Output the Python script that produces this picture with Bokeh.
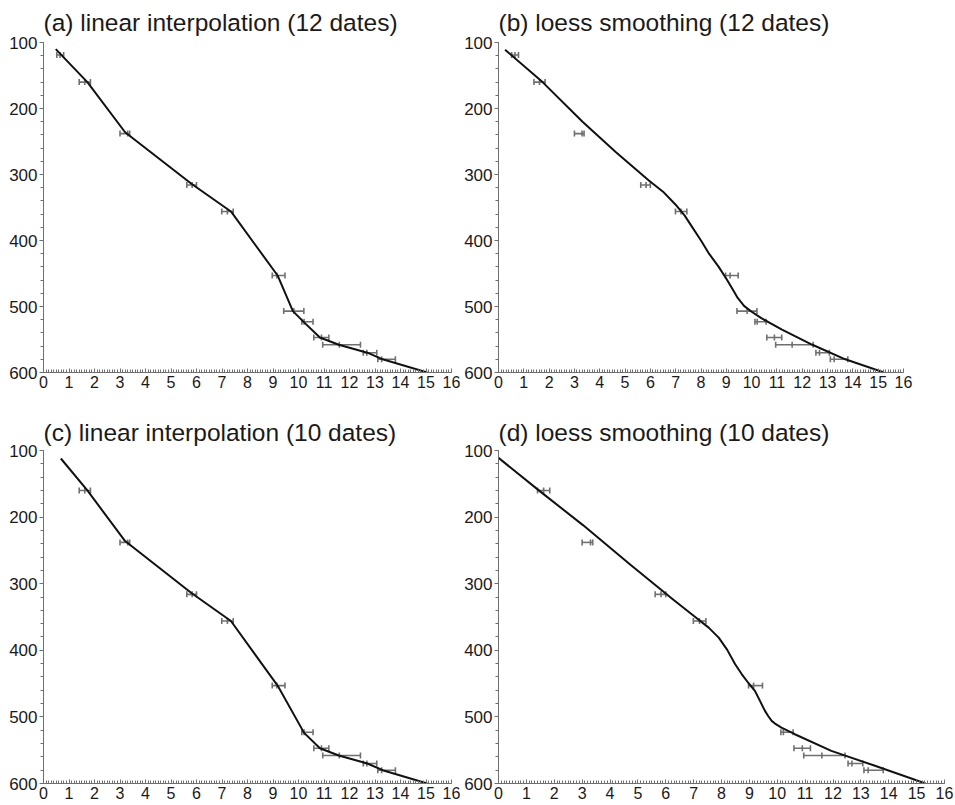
import math
from bokeh.plotting import figure
from bokeh.models import (ColumnDataSource, Range1d, SingleIntervalTicker, Whisker, TeeHead)
from bokeh.layouts import column, row
from bokeh.embed import file_html
from bokeh.resources import INLINE

# ---- dated samples (age in kyr, depth in cm) ----
dates12_depth = [119, 160, 238, 316, 356, 453, 507, 523, 547, 558, 570, 580]
dates12_age = [0.65, 1.62, 3.30, 5.83, 7.21, 9.15, 9.82, 10.22, 10.90, 11.60, 12.68, 13.26]
dates12_lo = [0.52, 1.40, 3.00, 5.62, 6.99, 8.97, 9.42, 10.13, 10.60, 10.95, 12.54, 13.11]
dates12_hi = [0.79, 1.84, 3.38, 6.00, 7.44, 9.47, 10.21, 10.57, 11.19, 12.43, 13.07, 13.80]

dates10_depth = [160, 238, 316, 356, 453, 523, 547, 558, 570, 580]
dates10_age = [1.62, 3.30, 5.83, 7.21, 9.15, 10.22, 10.90, 11.60, 12.68, 13.26]
dates10_lo = [1.40, 3.00, 5.62, 6.99, 8.97, 10.13, 10.60, 10.95, 12.54, 13.11]
dates10_hi = [1.84, 3.38, 6.00, 7.44, 9.47, 10.57, 11.19, 12.43, 13.07, 13.80]

# ---- age-depth models ----
lin12_age = [0.48, 1.72, 3.20, 5.80, 7.35, 9.18, 9.78, 10.22, 10.84, 11.58, 12.70, 13.30, 15.05]
lin12_depth = [110, 160, 236, 314, 356, 453, 507, 524, 547, 558, 570, 580, 600]

loess12_age = [0.26, 1.74, 3.32, 4.63, 5.94, 6.50, 6.98, 7.35, 7.64, 8.00, 8.30, 8.70, 9.02,
               9.25, 9.45, 9.70, 10.00, 10.40, 11.20, 12.40, 13.70, 15.23]
loess12_depth = [111, 160, 220, 266, 309, 326, 345, 362, 379, 400, 419, 440, 459,
                 474, 487, 499, 508, 518, 535, 558, 580, 600]

lin10_age = [0.68, 1.72, 3.20, 5.80, 7.35, 9.18, 10.22, 10.84, 11.58, 12.70, 13.30, 15.05]
lin10_depth = [112, 160, 236, 314, 356, 453, 524, 547, 558, 570, 580, 600]

loess10_age = [0.0, 1.48, 3.03, 4.69, 6.24, 7.00, 7.54, 7.90, 8.20, 8.49, 8.73, 9.00, 9.20,
               9.38, 9.56, 9.68, 9.80, 9.95, 10.15, 10.63, 11.94, 13.48, 15.32]
loess10_depth = [111, 161, 212, 270, 323, 348, 366, 381, 399, 421, 436, 451, 461,
                 476, 491, 499, 506, 511, 516, 526, 551, 573, 600]

titles = ["(a) linear interpolation (12 dates)", "(b) loess smoothing (12 dates)",
          "(c) linear interpolation (10 dates)", "(d) loess smoothing (10 dates)"]

FONT = "Liberation Sans"
GRAY = "#707070"


def panel(title, w, h, bl, br, bt, bb, standoff, d_age, d_lo, d_hi, d_depth, m_age, m_depth):
    p = figure(width=w, height=h, output_backend="svg", toolbar_location=None,
               x_range=Range1d(0, 16), y_range=Range1d(600, 100),
               min_border_left=bl, min_border_right=br, min_border_top=bt, min_border_bottom=bb)
    p.title.text = title
    p.title.text_font = FONT
    p.title.text_font_size = "24.5px"
    p.title.text_font_style = "normal"
    p.title.text_color = "#1a1a1a"
    p.title.align = "left"
    p.title.standoff = standoff
    p.title.offset = 0
    p.outline_line_color = None
    p.xgrid.visible = False
    p.ygrid.visible = False
    p.background_fill_color = "white"

    xa = p.xaxis[0]
    xa.ticker = SingleIntervalTicker(interval=1, num_minor_ticks=10)
    xa.axis_line_color = GRAY
    xa.major_tick_line_color = GRAY
    xa.minor_tick_line_color = GRAY
    xa.major_tick_in = 4
    xa.major_tick_out = 0
    xa.minor_tick_in = 3
    xa.minor_tick_out = 0
    xa.major_label_standoff = 3
    xa.major_label_text_font = FONT
    xa.major_label_text_font_size = "16px"
    xa.major_label_text_color = "#1a1a1a"

    ya = p.yaxis[0]
    ya.ticker = SingleIntervalTicker(interval=100, num_minor_ticks=5)
    ya.axis_line_color = GRAY
    ya.major_tick_line_color = GRAY
    ya.minor_tick_line_color = GRAY
    ya.major_tick_in = 0
    ya.major_tick_out = 4
    ya.minor_tick_in = 0
    ya.minor_tick_out = 3
    ya.major_label_standoff = 2
    ya.major_label_text_font = FONT
    ya.major_label_text_font_size = "17px"
    ya.major_label_text_color = "#1a1a1a"

    src = ColumnDataSource(dict(age=d_age, lo=d_lo, hi=d_hi, depth=d_depth))
    wk = Whisker(source=src, base="depth", lower="lo", upper="hi", dimension="width",
                 line_color=GRAY, line_width=1.6,
                 lower_head=TeeHead(size=6, line_color=GRAY, line_width=1.6),
                 upper_head=TeeHead(size=6, line_color=GRAY, line_width=1.6))
    p.add_layout(wk)
    p.scatter(x="age", y="depth", source=src, marker="dash", angle=math.pi / 2,
              size=6, line_color=GRAY, line_width=1.6)

    p.line(m_age, m_depth, line_color="#111111", line_width=2, line_join="round")
    return p


pa = panel(titles[0], 461, 398, 43, 10, 42, 26, 13,
           dates12_age, dates12_lo, dates12_hi, dates12_depth, lin12_age, lin12_depth)
pb = panel(titles[1], 494, 398, 35, 52, 42, 26, 13,
           dates12_age, dates12_lo, dates12_hi, dates12_depth, loess12_age, loess12_depth)
pc = panel(titles[2], 461, 406, 43, 10, 52, 21, 10,
           dates10_age, dates10_lo, dates10_hi, dates10_depth, lin10_age, lin10_depth)
pd = panel(titles[3], 494, 406, 35, 11, 52, 21, 10,
           dates10_age, dates10_lo, dates10_hi, dates10_depth, loess10_age, loess10_depth)

layout = column(row(pa, pb), row(pc, pd))
open("out.html", "w").write(file_html(layout, INLINE))
